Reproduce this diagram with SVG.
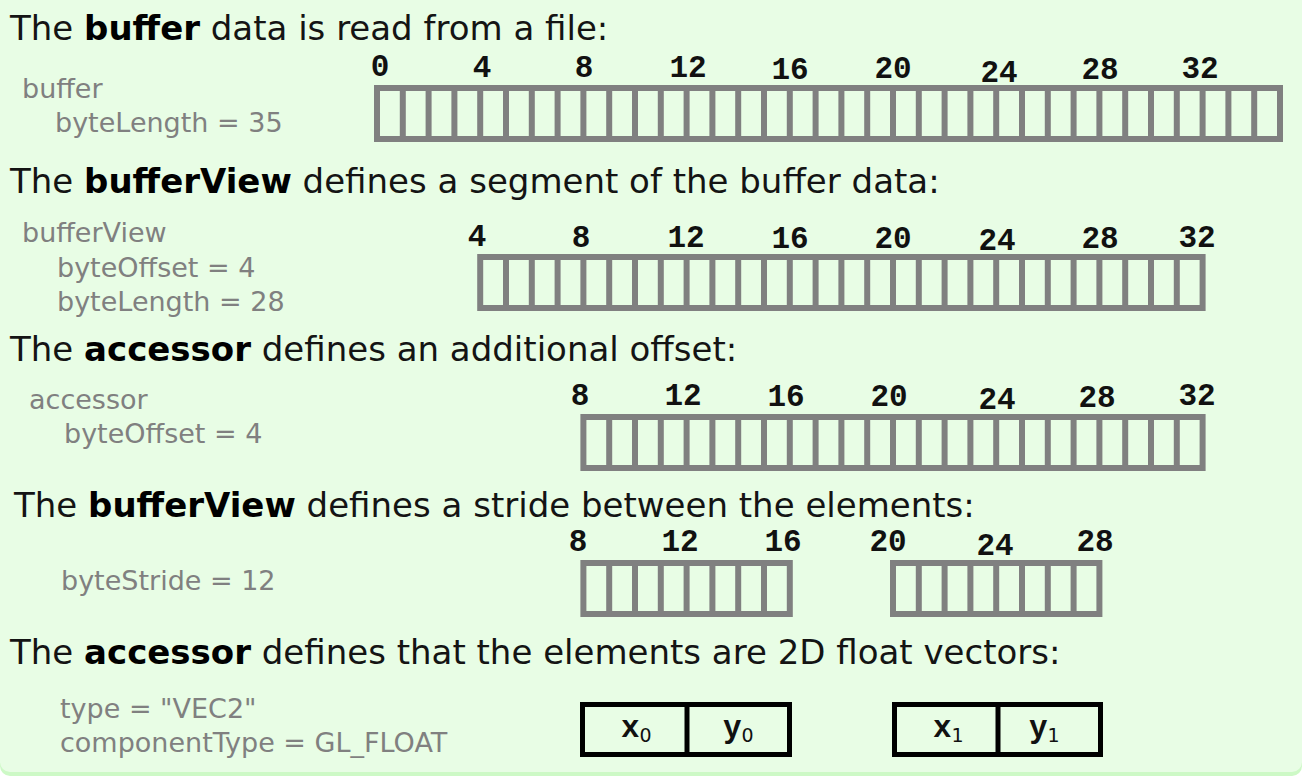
<svg xmlns="http://www.w3.org/2000/svg" width="1302" height="776" viewBox="0 0 1302 776">
<defs>
<style>
.h{font-family:"DejaVu Sans",Verdana,sans-serif;font-size:34px;fill:#141414}
.h .b{font-weight:bold;fill:#000}
.g{font-family:"DejaVu Sans",Verdana,sans-serif;font-size:27px;fill:#808080}
.n{font-family:"Liberation Mono","Courier New",monospace;font-weight:bold;font-size:31px;fill:#111;text-anchor:middle}
.cell{fill:none;stroke:#808080;stroke-width:6}
.vec{fill:none;stroke:#000;stroke-width:5}
.v{font-family:"Liberation Mono","Courier New",monospace;font-weight:bold;font-size:31px;fill:#111}
.sub{font-family:"DejaVu Sans",sans-serif;font-weight:normal;font-size:19px}
</style>
</defs>
<rect x="0" y="0" width="1302" height="776" rx="10" fill="#cdf9c6"/>
<rect x="0" y="0" width="1302" height="772" rx="10" fill="#e8fde5"/>
<rect x="0" y="0" width="1302" height="20" fill="#e8fde5"/>

<g id="section-buffer">
<text class="h" x="10" y="40">The <tspan class="b">buffer</tspan> data is read from a file:</text>
<text class="g" x="22" y="98">buffer</text>
<text class="g" x="55" y="132">byteLength = 35</text>
<g class="n">
<text x="380" y="76">0</text><text x="482" y="77">4</text><text x="584" y="77">8</text><text x="688" y="77">12</text><text x="790" y="79">16</text><text x="893" y="78">20</text><text x="999" y="82">24</text><text x="1100" y="79">28</text><text x="1200" y="78">32</text>
</g>
<rect class="cell" x="377" y="88" width="903" height="51"/>
<path class="cell" d="M402.8 88v51m25.8-51v51m25.8-51v51m25.8-51v51m25.8-51v51m25.8-51v51m25.8-51v51m25.8-51v51m25.8-51v51m25.8-51v51m25.8-51v51m25.8-51v51m25.8-51v51m25.8-51v51m25.8-51v51m25.8-51v51m25.8-51v51m25.8-51v51m25.8-51v51m25.8-51v51m25.8-51v51m25.8-51v51m25.8-51v51m25.8-51v51m25.8-51v51m25.8-51v51m25.8-51v51m25.8-51v51m25.8-51v51m25.8-51v51m25.8-51v51m25.8-51v51m25.8-51v51m25.8-51v51"/>
</g>

<g id="section-bufferview">
<text class="h" x="10" y="193">The <tspan class="b">bufferView</tspan> defines a segment of the buffer data:</text>
<text class="g" x="22" y="242">bufferView</text>
<text class="g" x="57" y="277">byteOffset = 4</text>
<text class="g" x="57" y="311">byteLength = 28</text>
<g class="n">
<text x="477" y="246">4</text><text x="581" y="247">8</text><text x="686" y="247">12</text><text x="790" y="248">16</text><text x="893" y="248">20</text><text x="997" y="250">24</text><text x="1100" y="248">28</text><text x="1197" y="247">32</text>
</g>
<rect class="cell" x="480.2" y="257" width="722.4" height="51"/>
<path class="cell" d="M506 257v51m25.8-51v51m25.8-51v51m25.8-51v51m25.8-51v51m25.8-51v51m25.8-51v51m25.8-51v51m25.8-51v51m25.8-51v51m25.8-51v51m25.8-51v51m25.8-51v51m25.8-51v51m25.8-51v51m25.8-51v51m25.8-51v51m25.8-51v51m25.8-51v51m25.8-51v51m25.8-51v51m25.8-51v51m25.8-51v51m25.8-51v51m25.8-51v51m25.8-51v51m25.8-51v51"/>
</g>

<g id="section-accessor">
<text class="h" x="10" y="361">The <tspan class="b">accessor</tspan> defines an additional offset:</text>
<text class="g" x="29" y="409">accessor</text>
<text class="g" x="64" y="443">byteOffset = 4</text>
<g class="n">
<text x="580" y="405">8</text><text x="683" y="405">12</text><text x="786" y="406">16</text><text x="889" y="406">20</text><text x="997" y="409">24</text><text x="1097" y="407">28</text><text x="1197" y="405">32</text>
</g>
<rect class="cell" x="583.4" y="417" width="619.2" height="51"/>
<path class="cell" d="M609.2 417v51m25.8-51v51m25.8-51v51m25.8-51v51m25.8-51v51m25.8-51v51m25.8-51v51m25.8-51v51m25.8-51v51m25.8-51v51m25.8-51v51m25.8-51v51m25.8-51v51m25.8-51v51m25.8-51v51m25.8-51v51m25.8-51v51m25.8-51v51m25.8-51v51m25.8-51v51m25.8-51v51m25.8-51v51m25.8-51v51"/>
</g>

<g id="section-stride">
<text class="h" x="14" y="517">The <tspan class="b">bufferView</tspan> defines a stride between the elements:</text>
<text class="g" x="61" y="590">byteStride = 12</text>
<g class="n">
<text x="578" y="551">8</text><text x="680" y="551">12</text><text x="783" y="551">16</text><text x="888" y="551">20</text><text x="995" y="555">24</text><text x="1095" y="551">28</text>
</g>
<rect class="cell" x="583.4" y="563" width="206.4" height="51"/>
<path class="cell" d="M609.2 563v51m25.8-51v51m25.8-51v51m25.8-51v51m25.8-51v51m25.8-51v51m25.8-51v51"/>
<rect class="cell" x="893" y="563" width="206.4" height="51"/>
<path class="cell" d="M918.8 563v51m25.8-51v51m25.8-51v51m25.8-51v51m25.8-51v51m25.8-51v51m25.8-51v51"/>
</g>

<g id="section-type">
<text class="h" x="10" y="664">The <tspan class="b">accessor</tspan> defines that the elements are 2D float vectors:</text>
<text class="g" x="60" y="718">type = "VEC2"</text>
<text class="g" x="60" y="752">componentType = GL_FLOAT</text>
<rect class="vec" x="582.5" y="704.5" width="207" height="50"/>
<path class="vec" d="M687 704.5v50"/>
<rect class="vec" x="894.5" y="704.5" width="206" height="50"/>
<path class="vec" d="M998 704.5v50"/>
<text class="v" x="621" y="737">x<tspan class="sub" dy="5">0</tspan></text>
<text class="v" x="723" y="737">y<tspan class="sub" dy="5">0</tspan></text>
<text class="v" x="933" y="737">x<tspan class="sub" dy="5">1</tspan></text>
<text class="v" x="1029" y="737">y<tspan class="sub" dy="5">1</tspan></text>
</g>
</svg>
